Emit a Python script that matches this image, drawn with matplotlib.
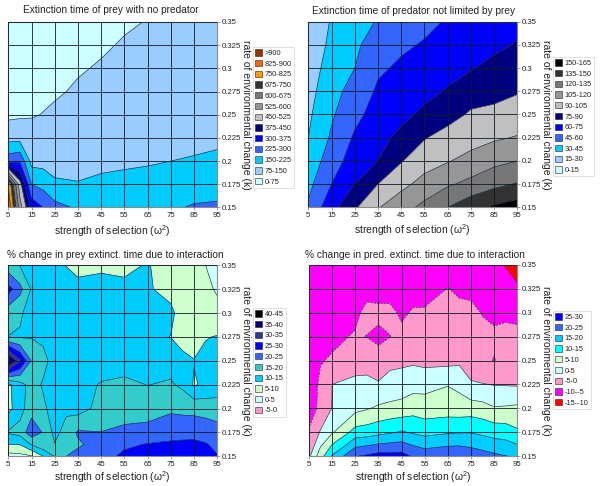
import numpy as np
import matplotlib
matplotlib.use("Agg")
import matplotlib.pyplot as plt
from matplotlib.patches import Patch

plt.rcParams['font.family'] = ['Liberation Sans', 'DejaVu Sans']
plt.rcParams['mathtext.fontset'] = 'custom'
plt.rcParams['mathtext.rm'] = 'Liberation Sans'
plt.rcParams['mathtext.it'] = 'Liberation Sans'
plt.rcParams['mathtext.default'] = 'regular'

x_ticks = [5, 15, 25, 35, 45, 55, 65, 75, 85, 95]
k_ticks = [0.15, 0.175, 0.2, 0.225, 0.25, 0.275, 0.3, 0.325, 0.35]
k_tick_labels = ['0.15', '0.175', '0.2', '0.225', '0.25', '0.275', '0.3', '0.325', '0.35']
x_title = r'strength of selection ($\omega^2$)'
y_title = 'rate of environmental change (k)'

# Panel A: extinction time of prey with no predator
prey_x = [5, 10, 15, 20, 25, 35, 45, 55, 65, 75, 85, 95]
prey_k = [0.15, 0.175, 0.2, 0.225, 0.25, 0.275, 0.3, 0.325, 0.35]
prey_time = [
    [890, 560, 350, 300, 250, 215, 212, 210, 212, 215, 232, 235],
    [820, 480, 225, 200, 160, 155, 172, 176, 180, 185, 190, 198],
    [270, 290, 125, 125, 125, 118, 125, 135, 142, 150, 158, 165],
    [125, 125, 105, 100, 105, 100, 105, 110, 115, 120, 125, 135],
    [60, 65, 70, 77, 85, 90, 95, 97, 100, 102, 105, 108],
    [50, 55, 60, 62, 68, 82, 88, 92, 95, 98, 100, 102],
    [40, 45, 50, 52, 58, 70, 80, 86, 90, 93, 95, 97],
    [30, 35, 40, 42, 48, 60, 68, 80, 88, 90, 92, 94],
    [25, 30, 35, 38, 44, 55, 62, 68, 77, 85, 88, 90],
]
prey_levels = [0, 75, 150, 225, 300, 375, 450, 525, 600, 675, 750, 825, 900, 1000]
prey_labels = ['0-75', '75-150', '150-225', '225-300', '300-375', '375-450', '450-525',
               '525-600', '600-675', '675-750', '750-825', '825-900', '>900']
prey_colors = ['#CCFFFF', '#99CCFF', '#00CCFF', '#3366FF', '#0000FF', '#000080', '#C0C0C0',
               '#969696', '#777777', '#333333', '#FF9900', '#FF6600', '#993300']

# Panel B: extinction time of predator not limited by prey
pred_x = [5, 15, 25, 35, 45, 55, 65, 75, 85, 95]
pred_k = [0.15, 0.175, 0.2, 0.225, 0.25, 0.275, 0.3, 0.325, 0.35]
pred_time = [
    [47, 70, 88, 104, 114, 124, 135, 145, 152, 157],
    [41, 60, 75, 90, 101, 110, 118, 124, 131, 136],
    [35, 53, 67, 75, 89, 99, 104, 110, 116, 120],
    [30, 47, 62, 70, 79, 89, 96, 99, 103, 106],
    [27.5, 43, 56, 66, 71, 78, 84, 92, 94, 96],
    [25, 39.5, 51, 62, 66, 71, 76, 83, 85, 89],
    [23, 36, 45, 58, 62, 66, 71, 74, 79, 82],
    [21, 33, 42, 53, 58, 61, 66, 69, 72, 76],
    [20, 31, 39, 46, 54, 57, 61, 65, 68, 71],
]
pred_levels = [0, 15, 30, 45, 60, 75, 90, 105, 120, 135, 150, 165]
pred_labels = ['0-15', '15-30', '30-45', '45-60', '60-75', '75-90', '90-105',
               '105-120', '120-135', '135-150', '150-165']
pred_colors = ['#CCFFFF', '#99CCFF', '#00CCFF', '#3366FF', '#0000FF', '#000080', '#C0C0C0',
               '#969696', '#777777', '#333333', '#000000']

# Panel C: % change in prey extinction time
dprey_x = [5, 10, 15, 20, 25, 30, 35, 45, 55, 65, 75, 80, 85, 90, 95]
dprey_k = [0.15, 0.1625, 0.175, 0.2, 0.225, 0.25, 0.275, 0.3, 0.325, 0.35]
dprey_change = [
    [3, 3.5, 4.5, 9.9, 15.2, 20, 21.5, 23.5, 25.8, 26, 26.5, 27, 27, 27, 25.2],
    [10, 10.2, 15.5, 19, 15.2, 18, 19.3, 22, 24.3, 25.2, 25.8, 26, 26, 25.3, 24],
    [15.5, 17, 23, 19.7, 13.5, 17, 20.6, 20.1, 21.5, 22.3, 23, 23.2, 23.5, 23, 22],
    [8.5, 13, 18, 15.9, 13, 14, 13, 16.6, 17, 17, 19.2, 18.8, 18.5, 18, 17.5],
    [9, 13, 17, 14.5, 13, 13, 13.5, 15.3, 16, 14.9, 15.6, 14, 9.5, 11, 12],
    [42, 31, 19.5, 16.5, 13, 12.8, 12.5, 13, 13, 13, 13, 11.5, 10.2, 11.5, 11.5],
    [14.9, 14.5, 14.7, 14, 13, 12.5, 12.5, 12.5, 12, 11.5, 9.9, 8, 7.5, 9.7, 10.3],
    [17, 15.7, 13, 12.5, 12.5, 12, 12, 12, 12, 11.5, 11, 8, 7, 7, 5.8],
    [27, 21.5, 14.5, 12.5, 12, 11.5, 11, 11, 11, 10.5, 8.5, 7, 6.5, 5.6, 4.7],
    [17, 14.8, 12, 11.5, 11, 9.9, 9, 9.5, 9, 10.3, 8, 7, 6.5, 5, 3.5],
]
dprey_levels = [-5, 0, 5, 10, 15, 20, 25, 30, 35, 40, 45]
dprey_labels = ['-5-0', '0-5', '5-10', '10-15', '15-20', '20-25', '25-30', '30-35', '35-40', '40-45']
dprey_colors = ['#FF99CC', '#CCFFFF', '#CCFFCC', '#00CCFF', '#33CCCC', '#3366FF', '#0000FF',
                '#333399', '#000080', '#000000']

# Panel D: % change in predator extinction time
dpred_x = [5, 10, 15, 25, 30, 35, 40, 45, 50, 55, 65, 70, 75, 80, 85, 90, 95]
dpred_k = [0.15, 0.175, 0.2, 0.225, 0.25, 0.275, 0.3, 0.325, 0.35]
dpred_change = [
    [-1, 8, 15.5, 24.8, 25.8, 27, 27, 27, 24.5, 23, 24, 24, 23, 22, 21, 20.2, 19.3],
    [-4.5, .5, 4.5, 12, 12.5, 13.5, 14.5, 15.5, 14.5, 13.5, 14.5, 14.8, 14.8, 14, 13, 12.6, 10.8],
    [-7, -4, .2, 3.5, 4.6, 5.8, 6.4, 6.8, 8, 7.2, 7.5, 7.2, 7.5, 6.8, 5.4, 5.6, 6],
    [-8, -4, 0, 1, 1.3, .4, 1.4, 2.2, 3.2, 3.5, 4.8, 3.8, .4, .2, -.2, -.3, -.5],
    [-7.5, -5.3, -4.5, -1.8, -2, -2.5, -1, -1, -.8, -1.5, -1.5, -1, -2, -4, -5.2, -3.5, -3.5],
    [-7.5, -6.5, -6, -4.6, -5.1, -6.5, -5.1, -3.8, -3.2, -3, -3, -3.2, -3.5, -4, -4.2, -4, -4],
    [-8, -7.5, -7, -6, -3.8, -3.5, -3.8, -5.8, -4.5, -4.4, -3.5, -3.8, -4, -5.2, -6, -5.7, -6],
    [-8.5, -8, -7.5, -8, -6.5, -7.5, -7, -7.5, -7, -7, -4.9, -5.8, -6, -6.5, -7.5, -8, -9.4],
    [-9, -8.5, -8, -8.5, -8, -8.5, -8, -8.5, -8.5, -8, -7.5, -7.8, -8, -8.5, -9, -10.3, -12],
]
dpred_levels = [-15, -10, -5, 0, 5, 10, 15, 20, 25, 30]
dpred_labels = ['-15--10', '-10--5', '-5-0', '0-5', '5-10', '10-15', '15-20', '20-25', '25-30']
dpred_colors = ['#FF0000', '#FF00FF', '#FF99CC', '#CCFFFF', '#CCFFCC', '#00FFFF', '#00CCFF',
                '#3366FF', '#0000FF']

W, H = 600, 486
fig = plt.figure(figsize=(W / 100, H / 100), dpi=100, facecolor='white')


def panel(box, title, title_xy, xs, ks, z, levels, colors, labels, leg_box, xpad):
    l, t, r, b = box
    ax = fig.add_axes([l / W, 1 - b / H, (r - l) / W, (b - t) / H])
    cf = ax.contourf(xs, ks, z, levels=levels, colors=colors, antialiased=True)
    cf.set_edgecolor('face')
    cf.set_linewidth(0.2)
    ax.contour(xs, ks, z, levels=levels, colors='#1a2a40', linewidths=0.45)
    ax.set_xlim(5, 95)
    ax.set_ylim(0.15, 0.35)
    ax.set_xticks(x_ticks)
    ax.set_yticks(k_ticks)
    ax.set_yticklabels(k_tick_labels)
    ax.yaxis.tick_right()
    ax.yaxis.set_label_position('right')
    ax.tick_params(labelsize=5.6, length=2, width=0.5, color='#808080', pad=1.5, labelcolor='#222222')
    ax.grid(True, color='#101820', linewidth=0.6)
    ax.set_axisbelow(False)
    for s in ax.spines.values():
        s.set_color('#8a8a8a')
        s.set_linewidth(0.8)
    ax.set_xlabel(x_title, fontsize=7.5, labelpad=xpad, color='#222222')
    ax.set_ylabel(y_title, fontsize=7.5, rotation=270, labelpad=7, color='#222222')
    fig.text(title_xy[0] / W, 1 - title_xy[1] / H, title, fontsize=7.3, ha='center', va='center', color='#222222')
    handles = [Patch(facecolor=c, edgecolor='#222222', linewidth=0.4) for c in colors][::-1]
    lx, ly = leg_box
    leg = fig.legend(handles, labels[::-1], loc='upper left', bbox_to_anchor=(lx / W, 1 - ly / H),
                     bbox_transform=fig.transFigure, fontsize=5.3, frameon=True, fancybox=False,
                     edgecolor='#d8d8d8', borderpad=0.3, labelspacing=0.41, handlelength=0.9,
                     handleheight=0.95, handletextpad=0.4, borderaxespad=0, labelcolor='#222222')
    leg.get_frame().set_linewidth(0.7)
    return ax


panel((8.3, 22, 217.2, 207.5), 'Extinction time of prey with no predator', (111, 10),
      prey_x, prey_k, prey_time, prey_levels, prey_colors, prey_labels, (253, 47), 2.5)
panel((308.3, 21.7, 517.2, 207.3), 'Extinction time of predator not limited by prey', (414, 11),
      pred_x, pred_k, pred_time, pred_levels, pred_colors, pred_labels, (553, 57), 2.5)
panel((8.3, 265.3, 217.2, 456.3), '% change in prey extinct. time due to interaction', (115, 255),
      dprey_x, dprey_k, dprey_change, dprey_levels, dprey_colors, dprey_labels, (253, 308), 1)
panel((309, 264.7, 517.2, 456.3), '% change in pred. extinct. time due to interaction', (415, 255),
      dpred_x, dpred_k, dpred_change, dpred_levels, dpred_colors, dpred_labels, (553, 311), 1)

fig.savefig('out.png', dpi=100)
